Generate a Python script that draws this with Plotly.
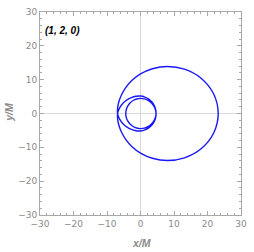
import numpy as np
import plotly.graph_objects as go

# orbit: polar angle (deg) and radius r/M
phi_deg = list(range(0, 1081, 15))
r_vals = [23.2, 22.58, 20.88, 18.55, 16.05, 13.70, 11.69, 10.07, 8.83, 7.94, 7.38, 7.05,
          6.85, 6.45, 6.05, 5.7, 5.43, 5.27, 5.16, 5.03, 4.92, 4.83, 4.75, 4.69,
          4.64, 4.6, 4.56, 4.53, 4.5, 4.48, 4.46, 4.44, 4.43, 4.42, 4.41, 4.405,
          4.4,
          4.405, 4.41, 4.42, 4.43, 4.44, 4.46, 4.48, 4.5, 4.53, 4.56, 4.6, 4.64,
          4.69, 4.75, 4.83, 4.92, 5.03, 5.16, 5.27, 5.43, 5.7, 6.05, 6.45, 6.85,
          7.05, 7.38, 7.94, 8.83, 10.07, 11.69, 13.70, 16.05, 18.55, 20.88, 22.58, 23.2]

tick_vals = [-30, -20, -10, 0, 10, 20, 30]
label_text = "(1, 2, 0)"

phi = np.radians(phi_deg)
r = np.array(r_vals)
x = r * np.cos(phi)
y = r * np.sin(phi)

fig = go.Figure()
fig.add_trace(go.Scatter(x=x, y=y, mode="lines",
                         line=dict(color="rgb(25,25,245)", width=1.4, shape="spline", smoothing=1),
                         hoverinfo="skip", showlegend=False))

axis_common = dict(
    range=[-30, 30], tickvals=tick_vals, ticks="inside", ticklen=4, tickcolor="#a8a8a8",
    showline=True, linecolor="#a8a8a8", linewidth=1, mirror="ticks",
    showgrid=False, zeroline=True, zerolinecolor="#d9d9d9", zerolinewidth=1,
    tickfont=dict(family="DejaVu Sans", size=9, color="#8a8a8a"),
    minor=dict(dtick=2, ticks="inside", ticklen=2, tickcolor="#a8a8a8", showgrid=False),
    fixedrange=True,
)
fig.update_xaxes(**axis_common)
fig.update_yaxes(**axis_common)

fig.add_annotation(x=0.507, y=-0.139, xref="paper", yref="paper", text="<b><i>x/M</i></b>",
                   showarrow=False, font=dict(family="Liberation Sans", size=10.5, color="#8a8a8a"),
                   xanchor="center", yanchor="middle")
fig.add_annotation(x=-0.153, y=0.505, xref="paper", yref="paper", text="<b><i>y/M</i></b>",
                   showarrow=False, textangle=-90,
                   font=dict(family="Liberation Sans", size=10.5, color="#8a8a8a"),
                   xanchor="center", yanchor="middle")
fig.add_annotation(x=0.017, y=0.911, xref="paper", yref="paper", text="<b><i>" + label_text + "</i></b>",
                   showarrow=False, font=dict(family="Liberation Sans", size=10, color="black"),
                   xanchor="left", yanchor="middle")

fig.update_layout(width=254, height=252, margin=dict(l=40, r=8, t=7, b=37),
                  paper_bgcolor="white", plot_bgcolor="white")
fig.write_html("out.html", config={"displayModeBar": False},
               post_script="document.body.style.margin='0';document.body.style.overflow='hidden';")
